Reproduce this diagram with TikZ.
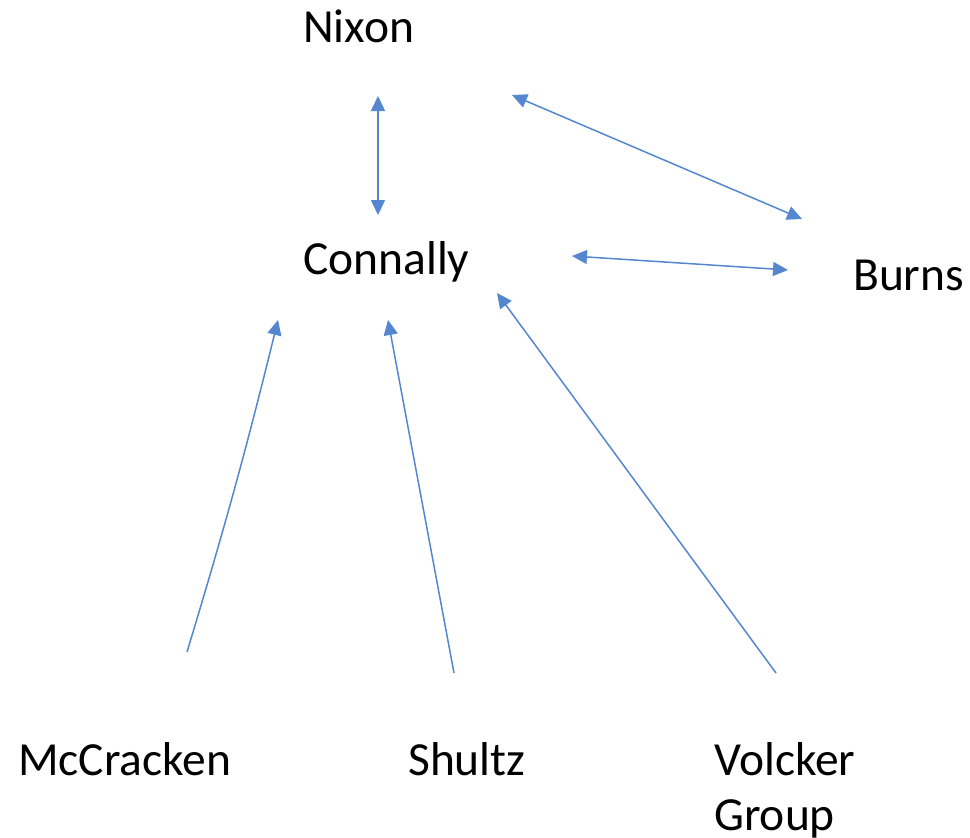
\documentclass[tikz,border=0pt]{standalone}
\usepackage{fontspec}
\setmainfont{Carlito}
\usetikzlibrary{arrows.meta}
\definecolor{linkblue}{RGB}{84,135,207}
\tikzset{
  person/.style={anchor=base west, inner sep=0pt, font=\fontsize{47.5}{55}\selectfont, align=left},
  link/.style={draw=linkblue, line width=1.5pt, -{Triangle[length=15pt,width=14pt]}},
  twoway/.style={link, {Triangle[length=15pt,width=14pt]}-{Triangle[length=15pt,width=14pt]}}
}
\begin{document}
\begin{tikzpicture}[x=1pt, y=-1pt]
  \useasboundingbox (0,0) rectangle (970,838);

  % people (multi-line nodes are anchored at the baseline of their last line)
  \node[person] (nixon)    at (303,42)  {Nixon};
  \node[person] (connally) at (303,274) {Connally};
  \node[person] (burns)    at (853,290) {Burns};
  \node[person] (mccr)     at (18,775)  {McCracken};
  \node[person] (shultz)   at (408,775) {Shultz};
  \node[person] (volcker)  at (714,830) {Volcker\\Group};

  % arrow end points
  \coordinate (nc1) at (378,96);
  \coordinate (nc2) at (378,215);
  \coordinate (nb1) at (512,95);
  \coordinate (nb2) at (802,219);
  \coordinate (cb1) at (572,256);
  \coordinate (cb2) at (788,270);
  \coordinate (mc1) at (187,652);
  \coordinate (mc2) at (278,320);
  \coordinate (sc1) at (454,673);
  \coordinate (sc2) at (388,320);
  \coordinate (vc1) at (776,673);
  \coordinate (vc2) at (497,293);

  % relations
  \draw[twoway] (nc1) -- (nc2);
  \draw[twoway] (nb1) -- (nb2);
  \draw[twoway] (cb1) -- (cb2);
  \draw[link] (mc1) to[bend right=1.5] (mc2);
  \draw[link] (sc1) -- (sc2);
  \draw[link] (vc1) -- (vc2);
\end{tikzpicture}
\end{document}
